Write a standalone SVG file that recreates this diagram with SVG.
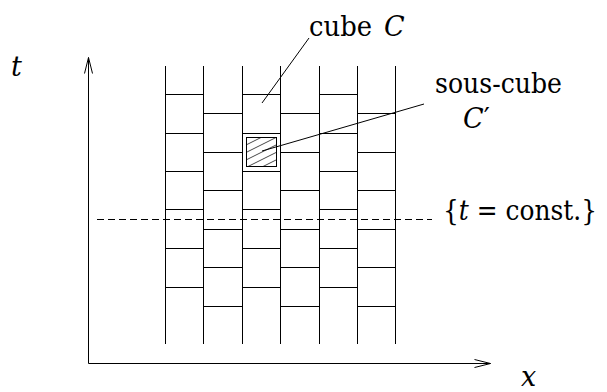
<svg xmlns="http://www.w3.org/2000/svg" width="607" height="392" viewBox="0 0 607 392">
<style>
.ln{stroke:#000;stroke-width:1;fill:none}
.hl{stroke:#333;stroke-width:0.9;fill:none}
text{font-family:'DejaVu Serif',serif;font-size:27px;fill:#000}
.it{font-style:italic}
</style>
<defs>
<clipPath id="sc"><rect x="246" y="137" width="30" height="30"/></clipPath>
</defs>
<rect width="607" height="392" fill="#fff"/>
<g id="axes" class="ln">
<path d="M88.5,363.5 V57.5 M84.5,73.5 L88.5,57.5 L92.5,73.5"/>
<path d="M88.5,363.5 H490.5 M474.5,359.5 L490.5,363.5 L474.5,367.5"/>
</g>
<g id="grid" class="ln">
<path d="M165.5,66 V344 M203.5,66 V344 M242.5,66 V344 M280.5,66 V344 M319.5,66 V344 M357.5,66 V344 M395.5,66 V344"/>
<path d="M165.5,94.5 H203.5 M165.5,133.5 H203.5 M165.5,171.5 H203.5 M165.5,209.5 H203.5 M165.5,248.5 H203.5 M165.5,287.5 H203.5"/>
<path d="M242.5,94.5 H280.5 M242.5,133.5 H280.5 M242.5,171.5 H280.5 M242.5,209.5 H280.5 M242.5,248.5 H280.5 M242.5,287.5 H280.5"/>
<path d="M319.5,94.5 H357.5 M319.5,133.5 H357.5 M319.5,171.5 H357.5 M319.5,209.5 H357.5 M319.5,248.5 H357.5 M319.5,287.5 H357.5"/>
<path d="M203.5,113.5 H242.5 M203.5,152.5 H242.5 M203.5,190.5 H242.5 M203.5,229.5 H242.5 M203.5,267.5 H242.5 M203.5,306.5 H242.5"/>
<path d="M280.5,113.5 H319.5 M280.5,152.5 H319.5 M280.5,190.5 H319.5 M280.5,229.5 H319.5 M280.5,267.5 H319.5 M280.5,306.5 H319.5"/>
<path d="M357.5,113.5 H395.5 M357.5,152.5 H395.5 M357.5,190.5 H395.5 M357.5,229.5 H395.5 M357.5,267.5 H395.5 M357.5,306.5 H395.5"/>
</g>
<g id="subcube">
<g clip-path="url(#sc)" class="hl">
<path d="M246,145 L280,128 M246,152.5 L280,135.5 M246,160 L280,143 M246,167.5 L280,150.5 M246,175 L280,158"/>
</g>
<rect x="246.5" y="137.5" width="30" height="29" class="ln"/>
</g>
<g id="tconst">
<line x1="97" y1="219.5" x2="432" y2="219.5" class="ln" stroke-dasharray="7 4"/>
</g>
<g id="connectors" class="ln">
<line x1="262" y1="103" x2="309" y2="38"/>
<line x1="262" y1="151" x2="424" y2="104"/>
</g>
<g id="labels">
<text x="11" y="76" class="it">t</text>
<text x="309" y="36" textLength="63" lengthAdjust="spacingAndGlyphs">cube</text>
<text x="384" y="36" class="it">C</text>
<text x="435" y="93" textLength="127" lengthAdjust="spacingAndGlyphs">sous-cube</text>
<text x="463" y="128"><tspan class="it">C</tspan>′</text>
<text x="443" y="220" font-size="25" textLength="154" lengthAdjust="spacingAndGlyphs">{<tspan class="it">t</tspan> = const.}</text>
<text x="521" y="386" class="it">x</text>
</g>
</svg>
